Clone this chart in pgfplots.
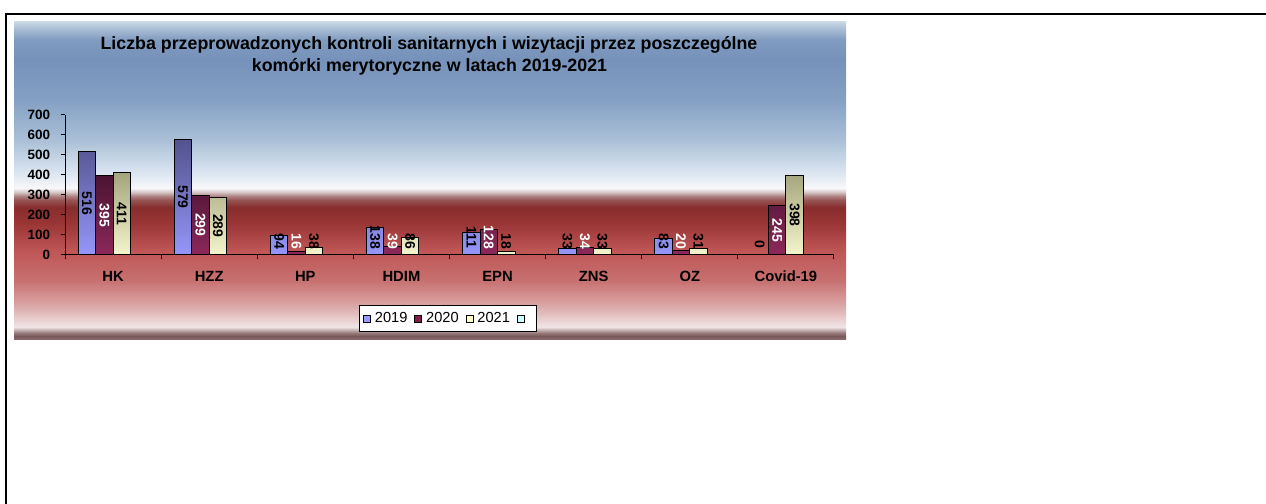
\documentclass[border=0pt]{standalone}
\usepackage{fontspec}
\setmainfont{Liberation Sans}
\usepackage{pgfplots}
\pgfplotsset{compat=1.18}

% bar colours
\definecolor{cA}{RGB}{153,153,255}
\definecolor{cAt}{RGB}{82,82,140}
\definecolor{cAb}{RGB}{150,150,250}
\definecolor{cB}{RGB}{128,30,72}
\definecolor{cBt}{RGB}{75,20,50}
\definecolor{cBb}{RGB}{140,40,90}
\definecolor{cC}{RGB}{255,255,204}
\definecolor{cCt}{RGB}{165,165,125}
\definecolor{cCb}{RGB}{245,245,205}
\definecolor{cD}{RGB}{204,255,255}

% background gradient colours
\definecolor{g339}{RGB}{135,105,105}
\definecolor{g336}{RGB}{120,90,90}
\definecolor{g333}{RGB}{150,120,120}
\definecolor{g330}{RGB}{195,175,175}
\definecolor{g327}{RGB}{240,230,230}
\definecolor{g321}{RGB}{235,212,212}
\definecolor{g305}{RGB}{218,165,165}
\definecolor{g280}{RGB}{200,112,112}
\definecolor{g250}{RGB}{190,85,85}
\definecolor{g222}{RGB}{152,52,52}
\definecolor{g207}{RGB}{135,45,45}
\definecolor{g200}{RGB}{150,85,85}
\definecolor{g196}{RGB}{175,130,130}
\definecolor{g192}{RGB}{215,200,200}
\definecolor{g188}{RGB}{248,248,250}
\definecolor{g175}{RGB}{222,232,242}
\definecolor{g140}{RGB}{170,192,215}
\definecolor{g100}{RGB}{132,160,196}
\definecolor{g60}{RGB}{118,146,186}
\definecolor{g40}{RGB}{128,155,192}
\definecolor{g30}{RGB}{165,185,210}
\definecolor{g21}{RGB}{205,218,232}

\pgfdeclareverticalshading{chartbg}{100bp}{%
color(0bp)=(g339); color(25bp)=(g339); color(25.47bp)=(g336);
color(25.94bp)=(g333); color(26.42bp)=(g330); color(26.89bp)=(g327);
color(27.83bp)=(g321); color(30.35bp)=(g305); color(34.28bp)=(g280);
color(38.99bp)=(g250); color(43.40bp)=(g222); color(45.75bp)=(g207);
color(46.86bp)=(g200); color(47.48bp)=(g196); color(48.11bp)=(g192);
color(48.74bp)=(g188); color(50.79bp)=(g175); color(56.29bp)=(g140);
color(62.58bp)=(g100); color(68.87bp)=(g60); color(72.01bp)=(g40);
color(73.58bp)=(g30); color(75bp)=(g21); color(100bp)=(g21)}

\begin{document}
\begin{tikzpicture}
\begin{scope}[x=0.5pt,y=-0.5pt]
\path[use as bounding box] (0,0) rectangle (1266,504);
\shade[shading=chartbg] (14,21) rectangle (846,339);
\draw[line width=1pt] (5,14) -- (1266,14);
\draw[line width=1pt] (6,13) -- (6,504);
\node[font=\bfseries\fontsize{8.9}{10}\selectfont, anchor=base, inner sep=0pt] at (429,49)
 {Liczba przeprowadzonych kontroli sanitarnych i wizytacji przez poszczególne};
\node[font=\bfseries\fontsize{8.9}{10}\selectfont, anchor=base, inner sep=0pt] at (429.5,71.7)
 {komórki merytoryczne w latach 2019-2021};
\end{scope}
\begin{axis}[
  at={(32.5pt,-127.35pt)}, anchor=south west,
  scale only axis, width=384.5pt, height=69.85pt,
  xmin=-0.5, xmax=7.5, ymin=0, ymax=700,
  axis x line*=bottom, axis y line*=left,
  axis line style={-, line width=0.5pt, black},
  tick align=outside, major tick length=2pt, minor tick length=2pt,
  tick style={black, line width=0.5pt},
  ytick={0,100,...,700},
  xtick={0,...,7},
  xticklabels={HK,HZZ,HP,HDIM,EPN,ZNS,OZ,Covid-19},
  every major x tick/.append style={draw=none},
  minor xtick={-0.5,0.5,...,7.5},
  /pgf/number format/assume math mode=true,
  yticklabel style={font=\bfseries\fontsize{6.75}{8}\selectfont, xshift=-1.9pt},
  xticklabel style={font=\bfseries\fontsize{7.4}{8}\selectfont, anchor=base, yshift=-11.5pt},
  clip=false,
  legend columns=-1,
  legend style={at={(0.498,-0.46)}, anchor=center, draw=black, line width=0.5pt,
    fill=white, font=\fontsize{7.3}{8}\selectfont, inner xsep=2pt, inner ysep=1.2pt,
    /tikz/every even column/.append style={column sep=1.5pt}},
  legend image code/.code={\draw[#1, draw=black, line width=0.4pt] (0pt,-1.75pt) rectangle (3.5pt,1.75pt);},
  nodes near coords style={font=\bfseries\fontsize{7}{8}\selectfont, rotate=-90, anchor=center, inner sep=0pt},
]
\addlegendimage{fill=cA}\addlegendentry{2019}
\addlegendimage{fill=cB}\addlegendentry{2020}
\addlegendimage{fill=cC}\addlegendentry{2021}
\addlegendimage{fill=cD}\addlegendentry{}

% bars
\addplot[ybar, bar width=0.182, bar shift=-0.273, draw=black, line width=0.5pt,
  top color=cAt, bottom color=cAb, forget plot]
  coordinates {(0,516) (1,579) (2,94) (3,138) (4,111) (5,33) (6,83)};
\addplot[ybar, bar width=0.182, bar shift=-0.091, draw=black, line width=0.5pt,
  top color=cBt, bottom color=cBb, forget plot]
  coordinates {(0,395) (1,299) (2,16) (3,39) (4,128) (5,34) (6,20) (7,245)};
\addplot[ybar, bar width=0.182, bar shift=0.091, draw=black, line width=0.5pt,
  top color=cCt, bottom color=cCb, forget plot]
  coordinates {(0,411) (1,289) (2,38) (3,86) (4,18) (5,33) (6,31) (7,398)};

% value labels
\addplot[draw=none, forget plot, nodes near coords, point meta=explicit symbolic,
  nodes near coords align=center, every node near coord/.append style={text=black}]
  coordinates {(-0.273,258)[516] (0.727,289.5)[579] (1.727,67)[94] (2.727,87)[138]
   (3.727,87)[111] (4.727,67)[33] (5.727,67)[83] (6.727,50)[0]};
\addplot[draw=none, forget plot, nodes near coords, point meta=explicit symbolic,
  nodes near coords align=center, every node near coord/.append style={text=white}]
  coordinates {(-0.091,197.5)[395] (0.909,149.5)[299] (1.909,67)[16] (2.909,67)[39]
   (3.909,87)[128] (4.909,67)[34] (5.909,67)[20] (6.909,122.5)[245]};
\addplot[draw=none, forget plot, nodes near coords, point meta=explicit symbolic,
  nodes near coords align=center, every node near coord/.append style={text=black}]
  coordinates {(0.091,205.5)[411] (1.091,144.5)[289] (2.091,67)[38] (3.091,67)[86]
   (4.091,67)[18] (5.091,67)[33] (6.091,67)[31] (7.091,199)[398]};
\end{axis}
\end{tikzpicture}
\end{document}
